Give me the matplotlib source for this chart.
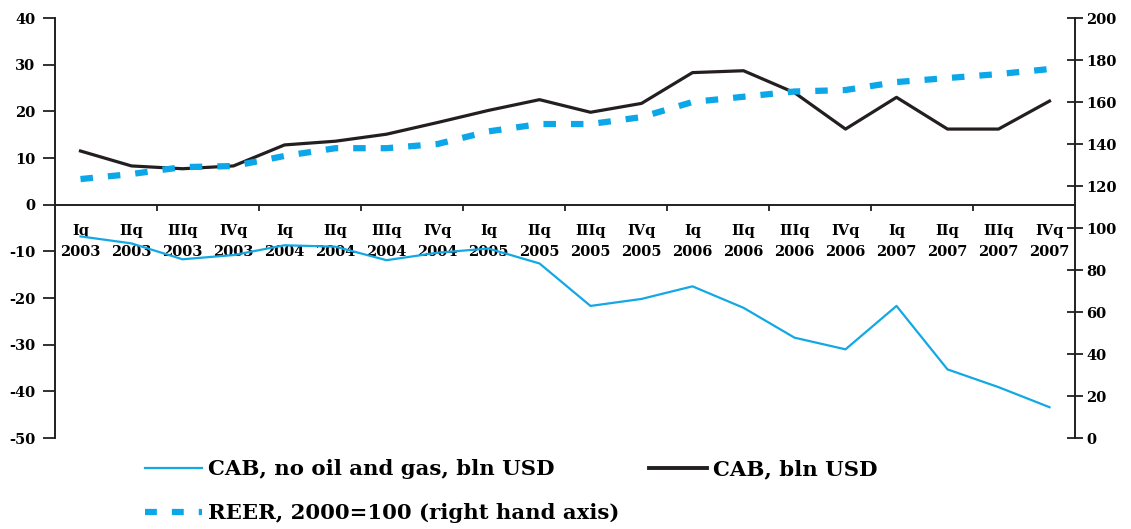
import matplotlib
matplotlib.use('Agg')
import matplotlib.pyplot as plt
from matplotlib.lines import Line2D

quarters = ['Iq', 'IIq', 'IIIq', 'IVq']
years = ['2003', '2004', '2005', '2006', '2007']
tick_labels = [f'{q}\n{y}' for y in years for q in quarters]

cab = [11.5, 8.3, 7.7, 8.3, 12.8, 13.6, 15.1, 17.6, 20.2, 22.5,
       19.8, 21.7, 28.3, 28.7, 24.0, 16.2, 23.0, 16.2, 16.2, 22.2]
cab_no_oil = [-6.8, -8.3, -11.7, -10.8, -8.7, -9.0, -11.9, -10.3, -9.4, -12.6,
              -21.7, -20.2, -17.5, -22.1, -28.5, -31.0, -21.7, -35.3, -39.1, -43.4]
reer = [123.3, 125.7, 129.0, 129.5, 134.3, 138.0, 138.0, 140.0, 146.0, 149.5,
        149.5, 152.8, 160.0, 162.5, 165.0, 165.7, 169.5, 171.4, 173.3, 175.7]

left_ticks = [40, 30, 20, 10, 0, -10, -20, -30, -40, -50]
right_ticks = [200, 180, 160, 140, 120, 100, 80, 60, 40, 20, 0]

plt.rcParams['font.family'] = ['DejaVu Serif']

W, H = 1131, 529
fig = plt.figure(figsize=(W / 100, H / 100), dpi=100)
ax = fig.add_axes([55 / W, 1 - 438 / H, (1075 - 55) / W, 420 / H])
ax2 = ax.twinx()

dark = '#231f20'
blue = '#13a8e4'
dblue = '#0ba7e8'

x = list(range(len(tick_labels)))
ax.plot(x, cab_no_oil, color=blue, lw=1.6, zorder=3)
ax.plot(x, cab, color=dark, lw=2.3, zorder=4)
ax2.plot(x, reer, color=dblue, lw=4.5, dashes=(2.0, 2.4),
         solid_capstyle='butt', dash_capstyle='butt')

ax.set_ylim(-50, 40)
ax2.set_ylim(0, 200)
ax.set_xlim(-0.5, len(x) - 0.5)

for a in (ax, ax2):
    a.patch.set_visible(False)
    for s in a.spines.values():
        s.set_color(dark)
        s.set_linewidth(1.4)
    a.spines['top'].set_visible(False)
ax.spines['right'].set_visible(False)
ax2.spines['left'].set_visible(False)
ax2.spines['bottom'].set_visible(False)
ax.spines['bottom'].set_position(('data', 0))

tfont = dict(fontsize=10.5, fontweight='bold')
ax.set_yticks(left_ticks)
ax.set_yticklabels([str(v) for v in left_ticks], **tfont)
ax.tick_params(axis='y', direction='out', length=9, width=1.3, color=dark, pad=5)

ax2.set_yticks(right_ticks)
ax2.set_yticklabels([str(v) for v in right_ticks], **tfont)
ax2.tick_params(axis='y', direction='inout', length=12, width=1.3, color=dark, pad=2)

ax.set_xticks([i + 0.5 for i in range(1, len(x) - 1, 2)])
ax.set_xticklabels([])
ax.tick_params(axis='x', which='major', direction='out', length=4, width=1.3, color=dark)
ax.set_xticks(x, minor=True)
ax.set_xticklabels(tick_labels, minor=True, linespacing=1.65, **tfont)
ax.tick_params(axis='x', which='minor', length=0, pad=14)

handles = [Line2D([], [], color=blue, lw=1.6),
           Line2D([], [], color=dblue, lw=4.5, dashes=(1.9, 2.4), dash_capstyle='butt'),
           Line2D([], [], color=dark, lw=2.8)]
labels = ['CAB, no oil and gas, bln USD', 'REER, 2000=100 (right hand axis)', 'CAB, bln USD']
fig.legend(handles, labels, ncol=2, loc='upper left', bbox_to_anchor=(145 / W, 1 - 459 / H),
           frameon=False, prop=dict(size=15.3, weight='bold'), handlelength=2.7,
           handletextpad=0.28, columnspacing=1.4, borderaxespad=0, borderpad=0,
           labelspacing=1.15)

fig.savefig('out.png', dpi=100)
